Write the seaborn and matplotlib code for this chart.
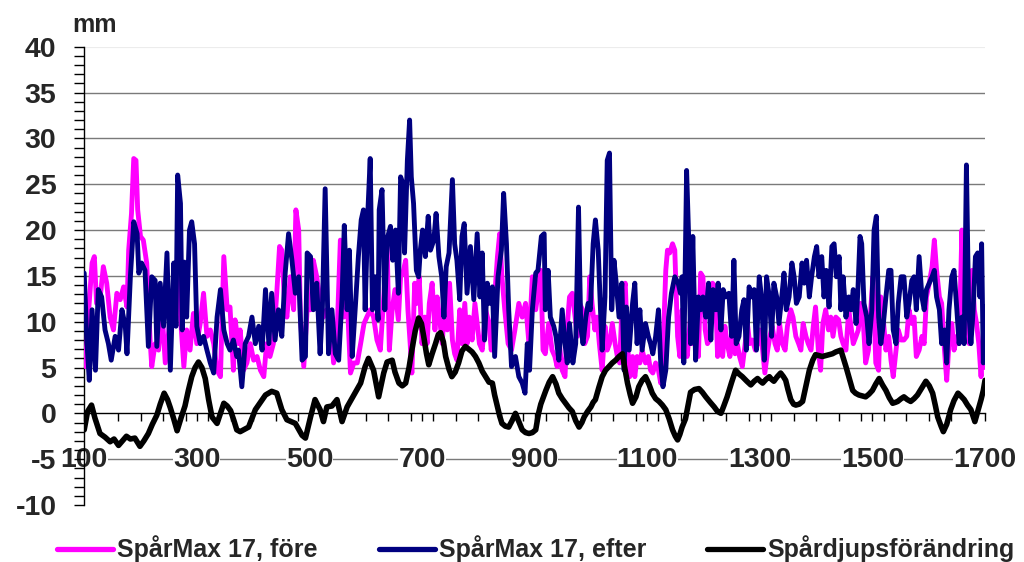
import matplotlib
matplotlib.use("Agg")
import matplotlib.pyplot as plt
from matplotlib.lines import Line2D
from matplotlib.ticker import MultipleLocator, FixedLocator
import numpy as np
import pandas as pd
import seaborn as sns

# ---- Data: distance along the section and rut depth (mm) ----
fore_x = [100, 102, 108, 114, 118, 122, 128, 134, 140, 146, 152, 158, 164, 170, 176, 179, 184, 188, 192, 195,
          200, 205, 211, 217, 220, 226, 232, 238, 244, 253, 259, 265, 271, 277, 282, 288, 294, 300, 306, 312,
          318, 324, 330, 336, 342, 348, 354, 359, 365, 368, 374, 377, 383, 389, 395, 401, 407, 413, 419, 424,
          430, 436, 442, 447, 451, 456, 460, 466, 472, 476, 481, 484, 490, 496, 502, 507, 513, 519, 525, 531,
          537, 543, 549, 555, 561, 567, 573, 579, 585, 591, 597, 602, 608, 614, 620, 626, 632, 638, 642, 647,
          652, 658, 662, 666, 671, 675, 679, 682, 687, 691, 695, 700, 705, 709, 713, 718, 723, 727, 731, 736,
          740, 745, 749, 754, 758, 762, 767, 771, 776, 780, 784, 789, 794, 798, 802, 807, 813, 819, 823, 829,
          834, 838, 842, 847, 853, 859, 865, 872, 878, 884, 890, 896, 902, 911, 915, 919, 925, 931, 936, 940,
          944, 949, 954, 958, 962, 967, 972, 976, 980, 985, 989, 994, 998, 1002, 1007, 1011, 1015, 1020, 1025, 1029,
          1033, 1038, 1043, 1047, 1051, 1056, 1061, 1065, 1069, 1074, 1078, 1082, 1087, 1091, 1097, 1102, 1106, 1110, 1115, 1120,
          1124, 1128, 1133, 1136, 1140, 1145, 1149, 1154, 1158, 1162, 1167, 1171, 1177, 1181, 1186, 1191, 1195, 1199, 1203, 1207,
          1211, 1216, 1221, 1225, 1229, 1234, 1238, 1242, 1247, 1251, 1256, 1260, 1264, 1269, 1274, 1278, 1282, 1287, 1292, 1296,
          1300, 1305, 1309, 1314, 1318, 1322, 1327, 1331, 1335, 1340, 1345, 1349, 1355, 1359, 1364, 1369, 1373, 1377, 1382, 1386,
          1391, 1395, 1399, 1404, 1408, 1412, 1417, 1422, 1426, 1430, 1435, 1440, 1444, 1448, 1453, 1458, 1462, 1466, 1471, 1475,
          1479, 1484, 1488, 1493, 1497, 1501, 1506, 1511, 1515, 1519, 1524, 1529, 1533, 1537, 1542, 1546, 1551, 1556, 1561, 1565,
          1570, 1574, 1578, 1583, 1588, 1592, 1596, 1601, 1606, 1610, 1614, 1619, 1623, 1628, 1632, 1636, 1641, 1645, 1650, 1654,
          1659, 1663, 1667, 1672, 1677, 1681, 1685, 1689, 1693, 1696, 1698, 1700]
fore_y = [6.0, 5.1, 11.3, 16.4, 17.1, 12.0, 12.4, 16.0, 14.2, 10.5, 9.1, 13.1, 12.4, 13.8, 11.6, 17.8, 21.8, 27.8, 27.6, 22.2,
          19.3, 18.9, 16.4, 8.0, 5.1, 7.6, 6.9, 11.3, 5.5, 10.5, 12.0, 14.9, 10.5, 5.1, 9.1, 6.9, 10.9, 7.6, 9.8, 13.1,
          8.4, 9.1, 7.6, 4.7, 4.0, 17.1, 11.3, 11.6, 4.7, 10.2, 7.6, 9.1, 4.7, 5.5, 7.6, 5.8, 6.2, 4.7, 4.0, 7.6,
          6.2, 7.6, 13.1, 18.2, 17.8, 12.0, 10.5, 14.9, 11.3, 22.2, 20.0, 10.5, 5.1, 11.3, 11.3, 16.7, 14.9, 12.4, 10.5, 11.3,
          10.5, 5.5, 8.4, 18.9, 10.5, 12.7, 4.4, 5.5, 5.5, 7.6, 9.8, 10.5, 11.3, 10.5, 8.0, 6.9, 12.7, 18.5, 6.9, 11.3,
          13.5, 10.2, 14.9, 15.3, 16.7, 11.3, 7.6, 4.4, 14.2, 12.0, 14.9, 7.6, 10.5, 7.6, 12.0, 14.2, 9.1, 12.7, 10.5, 7.6,
          12.0, 9.1, 14.2, 8.0, 6.5, 5.8, 11.3, 7.6, 12.0, 7.6, 10.5, 8.0, 12.0, 9.8, 7.6, 6.9, 11.3, 9.8, 6.9, 12.7,
          17.1, 19.6, 14.9, 11.3, 7.6, 6.9, 9.1, 12.0, 10.5, 12.0, 7.6, 14.9, 11.3, 15.6, 6.9, 6.5, 9.8, 6.9, 6.2, 5.1,
          7.6, 4.7, 4.0, 9.5, 12.7, 13.1, 10.5, 8.4, 12.0, 11.3, 7.6, 8.4, 14.9, 12.0, 9.1, 10.5, 7.6, 4.7, 9.5, 6.9,
          7.6, 9.8, 7.6, 6.2, 5.5, 12.7, 14.2, 7.6, 4.0, 6.2, 4.0, 6.2, 5.5, 6.9, 5.5, 6.2, 4.7, 4.4, 5.5, 4.7,
          3.3, 6.9, 15.6, 17.8, 17.5, 18.5, 17.8, 8.4, 6.2, 11.3, 7.6, 6.2, 10.5, 7.6, 9.5, 6.2, 15.3, 14.9, 9.1, 7.6,
          8.0, 14.2, 13.8, 6.2, 9.1, 6.2, 9.5, 7.6, 6.2, 9.5, 6.5, 7.6, 6.2, 5.1, 7.6, 9.8, 7.6, 8.0, 6.9, 7.6,
          9.1, 6.9, 4.4, 6.9, 8.4, 9.5, 7.6, 6.9, 9.8, 7.6, 6.9, 9.5, 11.3, 10.5, 8.4, 7.6, 6.9, 9.8, 8.4, 7.6,
          6.9, 9.5, 11.6, 6.9, 4.7, 9.8, 11.3, 9.1, 10.5, 8.4, 10.5, 10.2, 8.4, 7.6, 6.9, 11.3, 9.5, 7.6, 8.4, 9.1,
          12.0, 9.8, 5.5, 6.9, 11.3, 14.9, 5.5, 4.7, 12.7, 10.5, 6.9, 8.4, 5.8, 4.0, 6.9, 9.1, 8.0, 8.0, 8.4, 11.3,
          9.8, 10.5, 6.2, 6.9, 8.4, 7.6, 12.7, 14.2, 16.0, 18.9, 15.6, 12.7, 12.0, 6.9, 3.6, 7.6, 9.8, 6.9, 8.4, 7.6,
          20.0, 11.3, 11.3, 7.6, 15.6, 11.3, 9.8, 7.6, 4.0, 7.6, 6.2, 5.0]

efter_x = [100, 105, 109, 114, 120, 125, 131, 137, 143, 148, 155, 161, 167, 173, 176, 182, 188, 194, 197, 202,
           208, 214, 220, 226, 229, 235, 241, 247, 253, 259, 263, 266, 271, 274, 278, 282, 287, 291, 296, 300,
           306, 312, 318, 324, 330, 336, 342, 348, 354, 359, 365, 371, 374, 380, 386, 392, 398, 404, 410, 416,
           422, 428, 433, 439, 445, 451, 457, 463, 469, 475, 481, 487, 493, 496, 502, 507, 513, 519, 523, 528,
           534, 540, 546, 552, 558, 562, 567, 571, 576, 582, 587, 592, 596, 599, 604, 608, 612, 617, 622, 624,
           629, 634, 638, 644, 648, 653, 658, 662, 666, 669, 674, 678, 681, 685, 690, 694, 697, 701, 706, 711,
           715, 721, 725, 730, 735, 739, 743, 748, 754, 758, 762, 767, 771, 775, 780, 786, 792, 798, 803, 807,
           811, 816, 820, 825, 829, 835, 841, 845, 850, 854, 859, 866, 872, 878, 883, 887, 891, 896, 902, 906,
           912, 917, 919, 924, 928, 934, 938, 943, 949, 954, 958, 962, 968, 973, 978, 982, 986, 991, 995, 999,
           1004, 1008, 1013, 1017, 1020, 1025, 1029, 1033, 1037, 1041, 1045, 1050, 1055, 1059, 1063, 1068, 1074, 1078, 1082, 1087,
           1091, 1097, 1102, 1106, 1110, 1115, 1120, 1124, 1128, 1133, 1138, 1143, 1149, 1155, 1159, 1162, 1165, 1170, 1174, 1177,
           1181, 1186, 1191, 1195, 1199, 1204, 1209, 1213, 1217, 1222, 1226, 1231, 1235, 1239, 1245, 1250, 1254, 1258, 1263, 1268,
           1272, 1276, 1281, 1286, 1290, 1294, 1299, 1303, 1308, 1312, 1317, 1321, 1325, 1330, 1334, 1339, 1343, 1347, 1352, 1357,
           1361, 1365, 1370, 1375, 1379, 1383, 1388, 1392, 1397, 1401, 1405, 1410, 1414, 1418, 1423, 1428, 1432, 1436, 1441, 1444,
           1448, 1453, 1458, 1462, 1466, 1471, 1474, 1478, 1481, 1485, 1490, 1494, 1499, 1503, 1507, 1511, 1515, 1519, 1524, 1529,
           1533, 1537, 1542, 1546, 1551, 1556, 1561, 1565, 1570, 1574, 1578, 1583, 1588, 1592, 1596, 1601, 1606, 1610, 1614, 1619,
           1623, 1628, 1632, 1636, 1641, 1645, 1650, 1654, 1659, 1663, 1667, 1671, 1675, 1679, 1683, 1687, 1691, 1694, 1697, 1700]
efter_y = [15.3, 7.6, 3.6, 11.3, 4.7, 13.5, 12.7, 9.1, 7.6, 5.8, 8.4, 6.9, 11.3, 9.5, 6.5, 14.9, 20.9, 19.6, 15.3, 16.4,
           15.6, 7.3, 14.9, 14.5, 7.3, 14.2, 9.5, 17.5, 4.7, 16.4, 9.5, 26.0, 22.9, 9.1, 16.5, 10.5, 20.0, 20.9, 18.5, 9.5,
           7.6, 8.4, 6.9, 5.5, 4.4, 10.5, 13.5, 9.1, 7.6, 6.9, 8.0, 6.2, 6.9, 2.9, 7.6, 8.4, 10.5, 7.6, 9.5, 6.9,
           13.5, 7.6, 13.1, 8.0, 11.3, 8.4, 15.3, 19.6, 16.7, 13.1, 14.9, 5.8, 6.2, 17.5, 17.1, 11.3, 14.2, 6.5, 11.3, 24.5,
           6.5, 11.3, 6.5, 5.8, 12.7, 20.5, 11.3, 17.8, 6.2, 12.0, 17.1, 21.1, 22.2, 11.3, 22.2, 27.8, 11.3, 14.9, 10.2, 22.2,
           24.4, 11.3, 19.0, 20.4, 16.7, 20.0, 13.1, 25.8, 25.1, 17.5, 27.6, 32.0, 25.8, 22.9, 15.6, 14.9, 17.8, 20.0, 17.1, 21.5,
           17.8, 18.9, 21.8, 17.1, 14.9, 10.5, 16.0, 17.5, 25.5, 18.5, 16.7, 12.4, 19.3, 20.7, 13.1, 18.2, 12.4, 19.6, 12.7, 17.5,
           8.0, 14.2, 12.0, 13.8, 6.2, 14.9, 17.8, 24.0, 18.5, 11.3, 5.1, 6.2, 4.0, 3.3, 2.2, 7.6, 4.7, 11.3, 15.3, 15.6,
           19.3, 19.6, 11.3, 15.6, 10.5, 9.5, 8.4, 5.8, 11.3, 7.6, 5.5, 9.8, 5.5, 7.6, 22.5, 9.5, 7.6, 10.5, 12.0, 11.3,
           18.5, 21.1, 17.8, 11.3, 6.9, 12.7, 27.6, 28.4, 11.3, 16.7, 14.2, 10.5, 14.2, 4.7, 11.6, 6.9, 12.0, 14.2, 7.6, 11.3,
           6.9, 9.8, 8.4, 7.6, 6.5, 8.4, 11.3, 5.5, 2.9, 4.7, 10.5, 13.1, 14.9, 14.2, 13.1, 14.9, 5.5, 26.5, 18.5, 7.6,
           19.3, 5.8, 12.7, 11.3, 12.7, 10.5, 14.2, 8.0, 13.5, 11.3, 14.2, 9.1, 13.5, 12.7, 13.1, 8.4, 16.7, 7.6, 8.4, 11.3,
           12.4, 6.9, 13.8, 12.7, 13.5, 6.9, 14.9, 12.7, 5.8, 14.9, 12.7, 8.4, 14.2, 12.7, 9.8, 12.7, 15.3, 11.3, 12.7, 16.4,
           14.9, 12.0, 12.7, 16.4, 14.2, 16.7, 12.7, 14.9, 17.1, 18.2, 14.9, 17.1, 12.7, 15.6, 11.6, 18.2, 18.5, 14.9, 17.1, 11.3,
           14.9, 10.5, 12.7, 11.3, 13.5, 9.8, 13.1, 19.3, 18.5, 12.0, 10.5, 7.6, 11.3, 20.0, 21.5, 10.5, 7.6, 9.5, 12.7, 15.6,
           15.6, 9.1, 7.6, 12.0, 14.9, 14.9, 10.5, 12.0, 14.5, 14.9, 11.3, 17.1, 12.7, 11.3, 13.5, 14.2, 14.9, 15.6, 12.7, 11.3,
           7.6, 9.1, 5.5, 11.3, 14.9, 15.6, 11.3, 7.6, 10.5, 7.6, 27.1, 11.3, 7.6, 11.3, 17.1, 17.5, 12.7, 18.5, 5.5, 11.6]

andring_x = [100, 106, 113, 119, 128, 137, 146, 153, 161, 168, 175, 182, 190, 199, 206, 214, 221, 229, 235, 242,
             248, 253, 259, 265, 272, 279, 285, 291, 297, 303, 309, 315, 321, 327, 336, 342, 348, 354, 360, 366,
             371, 377, 392, 404, 422, 433, 442, 451, 460, 475, 487, 493, 502, 510, 519, 525, 531, 540, 549, 558,
             567, 579, 591, 599, 605, 614, 623, 632, 638, 647, 652, 659, 665, 671, 677, 682, 688, 694, 699, 703,
             708, 712, 718, 724, 729, 733, 738, 742, 748, 753, 759, 765, 771, 777, 783, 789, 795, 801, 807, 813,
             819, 825, 829, 834, 838, 842, 848, 854, 860, 866, 872, 878, 884, 890, 896, 902, 907, 911, 920, 926,
             932, 938, 943, 949, 955, 961, 967, 973, 979, 984, 988, 994, 1000, 1004, 1008, 1014, 1020, 1026, 1032, 1038,
             1044, 1050, 1056, 1060, 1065, 1070, 1074, 1080, 1085, 1091, 1097, 1103, 1109, 1115, 1121, 1127, 1133, 1139, 1145, 1150,
             1154, 1158, 1162, 1168, 1177, 1184, 1192, 1198, 1204, 1212, 1219, 1225, 1231, 1236, 1242, 1250, 1257, 1263, 1269, 1277,
             1284, 1290, 1296, 1301, 1305, 1311, 1317, 1321, 1325, 1331, 1337, 1342, 1346, 1350, 1355, 1360, 1364, 1370, 1376, 1382,
             1388, 1394, 1399, 1405, 1411, 1417, 1423, 1429, 1435, 1444, 1453, 1459, 1465, 1470, 1476, 1482, 1488, 1494, 1500, 1506,
             1512, 1518, 1524, 1530, 1536, 1541, 1545, 1551, 1556, 1562, 1568, 1574, 1580, 1588, 1595, 1601, 1607, 1612, 1616, 1622,
             1626, 1632, 1639, 1645, 1652, 1657, 1663, 1669, 1675, 1682, 1688, 1693, 1697, 1700]
andring_y = [-1.8, 0.2, 0.9, -0.5, -2.2, -2.6, -3.1, -2.8, -3.5, -3.0, -2.5, -2.8, -2.7, -3.6, -3.0, -2.2, -1.2, -0.2, 1.0, 2.2,
             1.5, 0.6, -0.6, -1.9, -0.5, 0.8, 2.5, 4.0, 5.0, 5.6, 5.0, 3.8, 1.5, -0.4, -1.1, 0.0, 1.1, 0.8, 0.3, -0.8,
             -1.8, -2.0, -1.5, 0.4, 2.0, 2.4, 2.2, 0.4, -0.7, -1.1, -2.4, -2.7, -0.4, 1.5, 0.4, -0.9, 0.7, 0.8, 1.5, -0.9,
             0.7, 2.0, 3.3, 5.1, 6.0, 4.7, 1.8, 4.4, 5.6, 5.8, 4.5, 3.3, 3.0, 3.3, 5.0, 6.9, 9.0, 10.4, 9.8, 8.4,
             6.5, 5.3, 6.5, 7.6, 8.6, 8.8, 7.8, 6.2, 4.8, 4.0, 4.5, 5.5, 6.8, 7.3, 7.0, 6.7, 6.2, 5.5, 4.6, 4.0,
             3.4, 3.3, 2.0, 0.7, -0.3, -1.1, -1.4, -1.5, -0.8, 0.0, -0.9, -1.8, -2.1, -2.2, -2.1, -1.8, 0.0, 1.0, 2.5, 3.4,
             4.0, 3.2, 2.2, 1.6, 1.1, 0.6, 0.2, -0.8, -1.5, -1.0, -0.4, 0.2, 0.7, 1.2, 1.5, 2.8, 4.0, 4.7, 5.1, 5.5,
             5.8, 6.2, 6.5, 5.0, 3.3, 2.0, 1.1, 1.8, 2.9, 3.6, 4.0, 3.2, 2.2, 1.6, 1.3, 0.9, 0.4, -0.6, -1.8, -2.5,
             -2.9, -2.3, -1.5, -0.6, 2.3, 2.6, 2.7, 2.3, 1.8, 1.2, 0.7, 0.2, 0.0, 0.8, 1.8, 3.4, 4.7, 4.3, 4.0, 3.5,
             3.1, 3.5, 3.8, 3.5, 3.3, 3.7, 4.0, 3.7, 3.5, 4.0, 4.4, 4.0, 3.6, 2.6, 1.5, 1.0, 0.9, 1.0, 1.3, 3.0,
             4.7, 5.8, 6.4, 6.3, 6.2, 6.3, 6.4, 6.5, 6.7, 6.9, 5.1, 3.8, 2.5, 2.2, 2.0, 1.9, 1.8, 2.1, 2.5, 3.2,
             3.8, 3.1, 2.5, 1.7, 1.1, 1.2, 1.3, 1.6, 1.8, 1.5, 1.3, 1.6, 2.0, 2.8, 3.5, 3.0, 2.2, 0.8, -0.4, -1.4,
             -2.0, -1.2, 0.4, 1.4, 2.2, 1.9, 1.5, 0.9, 0.4, -0.9, 0.4, 1.5, 2.5, 3.6]

series_names = ["SpårMax 17, före", "SpårMax 17, efter", "Spårdjupsförändring"]
series_colors = ["#FF00FF", "#000080", "#000000"]

x_tick_values = list(range(100, 1701, 200))
y_tick_values = list(range(-10, 41, 5))

# ---- Style ----
sns.set_theme(style="white")
plt.rcParams["font.family"] = ["Liberation Sans", "DejaVu Sans"]
plt.rcParams["font.weight"] = "bold"

fig = plt.figure(figsize=(10.24, 5.62), dpi=100)
W, H = 1024, 562
ax = fig.add_axes([84.2 / W, 1 - 505 / H, (985 - 84.2) / W, (505 - 46.7) / H])

df_fore = pd.DataFrame({"x": fore_x, "y": fore_y})
df_efter = pd.DataFrame({"x": efter_x, "y": efter_y})
df_andring = pd.DataFrame({"x": andring_x, "y": andring_y})

sns.lineplot(data=df_fore, x="x", y="y", ax=ax, color=series_colors[0], lw=3.5,
             estimator=None, sort=False, zorder=3)
sns.lineplot(data=df_efter, x="x", y="y", ax=ax, color=series_colors[1], lw=3.5,
             estimator=None, sort=False, zorder=4)
sns.lineplot(data=df_andring, x="x", y="y", ax=ax, color=series_colors[2], lw=4.0,
             estimator=None, sort=False, zorder=5)

ax.set_xlim(100, 1700)
ax.set_ylim(-10, 40)
ax.set_xlabel("")
ax.set_ylabel("")

# horizontal gridlines
for yv in y_tick_values:
    if yv in (-10, 0):
        continue
    if yv == 40:
        ax.axhline(yv, color="#ececec", lw=0.8, zorder=0.2)
    else:
        ax.axhline(yv, color="#7a7a7a", lw=1.0, zorder=0.2)

# axes frame: y axis on the left, x axis crossing at zero
for side in ("top", "right"):
    ax.spines[side].set_visible(False)
ax.spines["left"].set_color("black")
ax.spines["left"].set_linewidth(1.0)
ax.spines["bottom"].set_position(("data", 0))
ax.spines["bottom"].set_color("black")
ax.spines["bottom"].set_linewidth(1.0)

ax.xaxis.set_major_locator(FixedLocator(x_tick_values))
ax.xaxis.set_minor_locator(MultipleLocator(40))
ax.set_xticklabels([str(v) for v in x_tick_values])
ax.yaxis.set_major_locator(FixedLocator(y_tick_values))
ax.yaxis.set_minor_locator(MultipleLocator(1))
ax.set_yticklabels([str(v) for v in y_tick_values])

ax.tick_params(axis="x", which="both", direction="out", length=6, width=1.0, color="black",
               bottom=True, pad=18.5, labelsize=20.5)
ax.tick_params(axis="y", which="both", direction="out", length=7, width=1.0, color="black",
               left=True, pad=13, labelsize=20.5)
for lbl in ax.get_xticklabels() + ax.get_yticklabels():
    lbl.set_fontweight("bold")
for lbl in ax.get_xticklabels():
    lbl.set_bbox(dict(facecolor="white", edgecolor="none", pad=0))
ax.set_axisbelow(True)

fig.text(72 / W, 1 - 32 / H, "mm", fontsize=18, fontweight="bold", ha="left", va="baseline")

handles = [Line2D([], [], color=c, lw=3.8) for c in series_colors]
fig.legend(handles, series_names, loc="center left", bbox_to_anchor=(57 / W, 1 - 549 / H),
           ncol=3, frameon=False, handlelength=2.24, handletextpad=0.16,
           columnspacing=2.45, borderpad=0, borderaxespad=0,
           prop={"weight": "bold", "size": 18})

fig.savefig("out.png", dpi=100, facecolor="white")
